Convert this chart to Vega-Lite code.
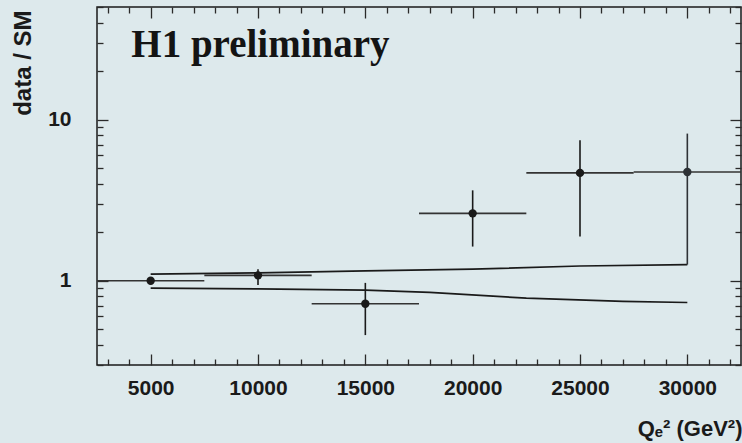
{
  "$schema": "https://vega.github.io/schema/vega-lite/v6.json",
  "width": 644,
  "height": 358,
  "autosize": {"type": "none"},
  "padding": {"left": 97, "top": 7, "right": 1, "bottom": 78},
  "background": "#dde9ec",
  "config": {
    "view": {"stroke": "#1a1a1a", "strokeWidth": 1.5},
    "axis": {"grid": false, "domain": false, "tickColor": "#2a2a2a", "tickWidth": 1.3,
             "labelFont": "Liberation Sans", "labelFontWeight": "bold", "labelFontSize": 21, "labelColor": "#1a1a1a",
             "titleFont": "Liberation Sans", "titleFontWeight": "bold", "titleFontSize": 22, "titleColor": "#1a1a1a"}
  },
  "datasets": {
    "pts": [
      {"q2": 5000, "r": 1.0, "rlo": 0.98, "rhi": 1.02, "qlo": 2500, "qhi": 7500, "kind": "std"},
      {"q2": 10000, "r": 1.08, "rlo": 0.94, "rhi": 1.18, "qlo": 7500, "qhi": 12500, "kind": "std"},
      {"q2": 15000, "r": 0.72, "rlo": 0.46, "rhi": 0.97, "qlo": 12500, "qhi": 17500, "kind": "std"},
      {"q2": 20000, "r": 2.62, "rlo": 1.63, "rhi": 3.64, "qlo": 17500, "qhi": 22500, "kind": "std"},
      {"q2": 25000, "r": 4.67, "rlo": 1.88, "rhi": 7.44, "qlo": 22500, "qhi": 27500, "kind": "std"},
      {"q2": 30000, "r": 4.73, "rlo": 1.26, "rhi": 8.19, "qlo": 27500, "qhi": 32500, "kind": "last"}
    ],
    "upper": [
      {"q2": 5000, "r": 1.10},
      {"q2": 10000, "r": 1.12},
      {"q2": 15000, "r": 1.15},
      {"q2": 20000, "r": 1.18},
      {"q2": 25000, "r": 1.235},
      {"q2": 30000, "r": 1.26}
    ],
    "lower": [
      {"q2": 5000, "r": 0.90},
      {"q2": 10000, "r": 0.89},
      {"q2": 15000, "r": 0.875},
      {"q2": 18000, "r": 0.846},
      {"q2": 22500, "r": 0.78},
      {"q2": 27000, "r": 0.745},
      {"q2": 30000, "r": 0.733}
    ],
    "label": [{"q2": 4100, "r": 24.6, "t": "H1 preliminary"}]
  },
  "resolve": {"axis": {"x": "independent", "y": "independent"}},
  "layer": [
    {
      "mark": {"type": "rule", "color": "#1a1a1a", "strokeWidth": 1.5},
      "encoding": {
        "y": {"datum": 1, "type": "quantitative", "scale": {"type": "log", "domain": [0.3, 50]}, "axis": null}
      }
    },
    {
      "data": {"name": "upper"},
      "mark": {"type": "line", "color": "#1a1a1a", "strokeWidth": 1.7},
      "encoding": {
        "x": {"field": "q2", "type": "quantitative", "scale": {"domain": [2500, 32500], "nice": false, "zero": false},
              "axis": {"orient": "bottom", "values": [3000,4000,6000,7000,8000,9000,11000,12000,13000,14000,16000,17000,18000,19000,21000,22000,23000,24000,26000,27000,28000,29000,31000,32000], "tickSize": -6, "labels": false, "title": null}},
        "y": {"field": "r", "type": "quantitative", "scale": {"type": "log", "domain": [0.3, 50]},
              "axis": {"orient": "left", "values": [0.3,0.4,0.5,0.6,0.7,0.8,0.9,2,3,4,5,6,7,8,9,20,30,40,50], "tickSize": -6, "labels": false, "title": null}}
      }
    },
    {
      "data": {"name": "lower"},
      "mark": {"type": "line", "color": "#1a1a1a", "strokeWidth": 1.7},
      "encoding": {
        "x": {"field": "q2", "type": "quantitative", "scale": {"domain": [2500, 32500], "nice": false, "zero": false},
              "axis": {"orient": "top", "values": [3000,4000,6000,7000,8000,9000,11000,12000,13000,14000,16000,17000,18000,19000,21000,22000,23000,24000,26000,27000,28000,29000,31000,32000], "tickSize": -6, "labels": false, "title": null}},
        "y": {"field": "r", "type": "quantitative", "scale": {"type": "log", "domain": [0.3, 50]},
              "axis": {"orient": "right", "values": [0.3,0.4,0.5,0.6,0.7,0.8,0.9,2,3,4,5,6,7,8,9,20,30,40,50], "tickSize": -6, "labels": false, "title": null}}
      }
    },
    {
      "data": {"name": "pts"},
      "mark": {"type": "rule", "color": "#333333", "strokeWidth": 1.6},
      "encoding": {
        "x": {"field": "qlo", "type": "quantitative", "scale": {"domain": [2500, 32500], "nice": false, "zero": false},
              "axis": {"orient": "top", "values": [5000,10000,15000,20000,25000,30000], "tickSize": -11, "labels": false, "title": null}},
        "x2": {"field": "qhi"},
        "y": {"field": "r", "type": "quantitative", "scale": {"type": "log", "domain": [0.3, 50]},
              "axis": {"orient": "right", "values": [1, 10], "tickSize": -11, "labels": false, "title": null}}
      }
    },
    {
      "data": {"name": "pts"},
      "mark": {"type": "rule", "strokeWidth": 1.6},
      "encoding": {
        "x": {"field": "q2", "type": "quantitative", "scale": {"domain": [2500, 32500], "nice": false, "zero": false}, "axis": null},
        "y": {"field": "rlo", "type": "quantitative", "scale": {"type": "log", "domain": [0.3, 50]}, "axis": null},
        "y2": {"field": "rhi"},
        "color": {"field": "kind", "type": "nominal", "scale": {"domain": ["std", "last"], "range": ["#1a1a1a", "#2e3236"]}, "legend": null}
      }
    },
    {
      "data": {"name": "pts"},
      "mark": {"type": "circle", "size": 70, "opacity": 1},
      "encoding": {
        "x": {"field": "q2", "type": "quantitative", "scale": {"domain": [2500, 32500], "nice": false, "zero": false},
              "axis": {"orient": "bottom", "values": [5000,10000,15000,20000,25000,30000], "format": "d", "tickSize": -11, "labelPadding": 23,
                       "title": "Qₑ²  (GeV²)", "titleAnchor": "end", "titleAlign": "right", "titleBaseline": "alphabetic", "titleX": 645, "titleY": 70}},
        "y": {"field": "r", "type": "quantitative", "scale": {"type": "log", "domain": [0.3, 50]},
              "axis": {"orient": "left", "values": [1, 10], "format": "d", "tickSize": -11, "labelPadding": 37,
                       "title": "data / SM", "titleFontSize": 24, "titleAnchor": "end", "titleAlign": "right", "titleAngle": 270, "titleBaseline": "middle", "titleX": -74, "titleY": 3}},
        "color": {"field": "kind", "type": "nominal", "scale": {"domain": ["std", "last"], "range": ["#111111", "#6f7a82"]}, "legend": null}
      }
    },
    {
      "data": {"name": "label"},
      "mark": {"type": "text", "font": "Liberation Serif", "fontWeight": "bold", "fontSize": 39, "align": "left", "baseline": "alphabetic", "color": "#141414"},
      "encoding": {
        "x": {"field": "q2", "type": "quantitative", "scale": {"domain": [2500, 32500], "nice": false, "zero": false}, "axis": null},
        "y": {"field": "r", "type": "quantitative", "scale": {"type": "log", "domain": [0.3, 50]}, "axis": null},
        "text": {"field": "t"}
      }
    }
  ]
}
